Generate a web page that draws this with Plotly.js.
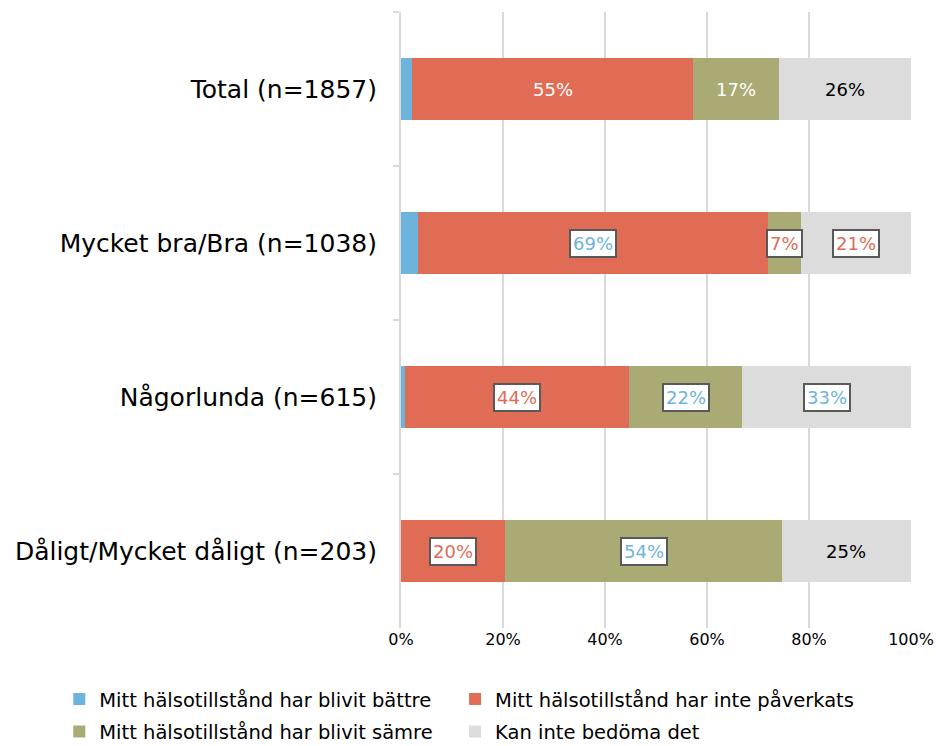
<!DOCTYPE html>
<html>
<head>
<meta charset="utf-8">
<script src="https://cdn.plot.ly/plotly-3.0.1.min.js"></script>
<style>html,body{margin:0;padding:0;background:#fff;}#chart{width:936px;height:746px;}</style>
</head>
<body>
<div id="chart"></div>
<script>
const categories = ["Total (n=1857)", "Mycket bra/Bra (n=1038)", "Någorlunda (n=615)", "Dåligt/Mycket dåligt (n=203)"];
const seriesNames = ["Mitt hälsotillstånd har blivit bättre", "Mitt hälsotillstånd har inte påverkats", "Mitt hälsotillstånd har blivit sämre", "Kan inte bedöma det"];
const better   = [2.2, 3.3, 0.8, 0.0];
const unchanged = [55.1, 68.6, 44.0, 20.4];
const worse    = [16.9, 6.6, 22.1, 54.3];
const unknown  = [25.8, 21.5, 33.1, 25.3];
const labelsUnchanged = ["55%", "69%", "44%", "20%"];
const labelsWorse     = ["17%", "7%", "22%", "54%"];
const labelsUnknown   = ["26%", "21%", "33%", "25%"];
const tickVals = [0, 20, 40, 60, 80, 100];
const tickText = ["0%", "20%", "40%", "60%", "80%", "100%"];

const colors = ["#6db4dc", "#e06c55", "#aaaa74", "#dcdcdc"];
const FONT = "DejaVu Sans, sans-serif";
const series = [better, unchanged, worse, unknown];
const legendIds = ["legend", "legend2", "legend3", "legend4"];

const traces = series.map((vals, i) => ({
  type: "bar", orientation: "h", name: seriesNames[i],
  y: categories, x: vals, width: 0.4,
  marker: {color: colors[i], line: {width: 0}},
  legend: legendIds[i],
  hoverinfo: "skip"
}));

const BLUE = "#6db4dc", RED = "#e06c55";
const labelStyle = [
  [{c:"#ffffff"}, {c:"#ffffff"}, {c:"#000000"}],
  [{c:BLUE, box:true}, {c:RED, box:true}, {c:RED, box:true}],
  [{c:RED, box:true}, {c:BLUE, box:true}, {c:BLUE, box:true}],
  [{c:RED, box:true}, {c:BLUE, box:true}, {c:"#000000"}]
];
const labelSets = [labelsUnchanged, labelsWorse, labelsUnknown];
const annotations = [];
categories.forEach((cat, r) => {
  let cum = better[r];
  [unchanged, worse, unknown].forEach((vals, s) => {
    const mid = cum + vals[r] / 2;
    cum += vals[r];
    const st = labelStyle[r][s];
    annotations.push({
      x: mid, y: cat, xref: "x", yref: "y", showarrow: false,
      text: labelSets[s][r],
      font: {family: FONT, size: 18, color: st.c},
      bgcolor: st.box ? "#ffffff" : "rgba(0,0,0,0)",
      bordercolor: st.box ? "#595959" : "rgba(0,0,0,0)",
      borderwidth: st.box ? 2 : 0, borderpad: 2
    });
  });
});

const legendBase = {
  orientation: "h", xanchor: "left", yanchor: "top",
  font: {family: FONT, size: 19.5, color: "#000000"},
  traceorder: "normal", itemwidth: 30, bgcolor: "rgba(0,0,0,0)"
};
const legendPos = [[-0.67, -0.084], [0.106, -0.084], [-0.67, -0.137], [0.106, -0.137]];

const layout = {
  width: 936, height: 746,
  margin: {l: 401, r: 25, t: 12, b: 118, autoexpand: false},
  paper_bgcolor: "#ffffff", plot_bgcolor: "#ffffff",
  barmode: "stack", bargap: 0.6,
  font: {family: FONT, color: "#000000"},
  xaxis: {
    range: [0, 100], tickvals: tickVals, ticktext: tickText,
    showgrid: true, gridcolor: "#d9d9d9", gridwidth: 2,
    zeroline: false, showline: false, ticks: "",
    tickfont: {family: FONT, size: 16, color: "#000000"},
    automargin: false, fixedrange: true
  },
  yaxis: {
    autorange: "reversed", type: "category",
    showline: true, linecolor: "#d9d9d9", linewidth: 2,
    ticks: "outside", tickson: "boundaries", ticklen: 6, tickcolor: "#d9d9d9", tickwidth: 2,
    showgrid: false, zeroline: false,
    tickfont: {family: FONT, size: 25, color: "#000000"},
    ticklabelstandoff: 17,
    automargin: false, fixedrange: true
  },
  showlegend: true,
  annotations: annotations
};
legendIds.forEach((id, i) => {
  layout[id] = Object.assign({}, legendBase, {x: legendPos[i][0], y: legendPos[i][1]});
});

Plotly.newPlot("chart", traces, layout, {displayModeBar: false, staticPlot: true});
</script>
</body>
</html>
